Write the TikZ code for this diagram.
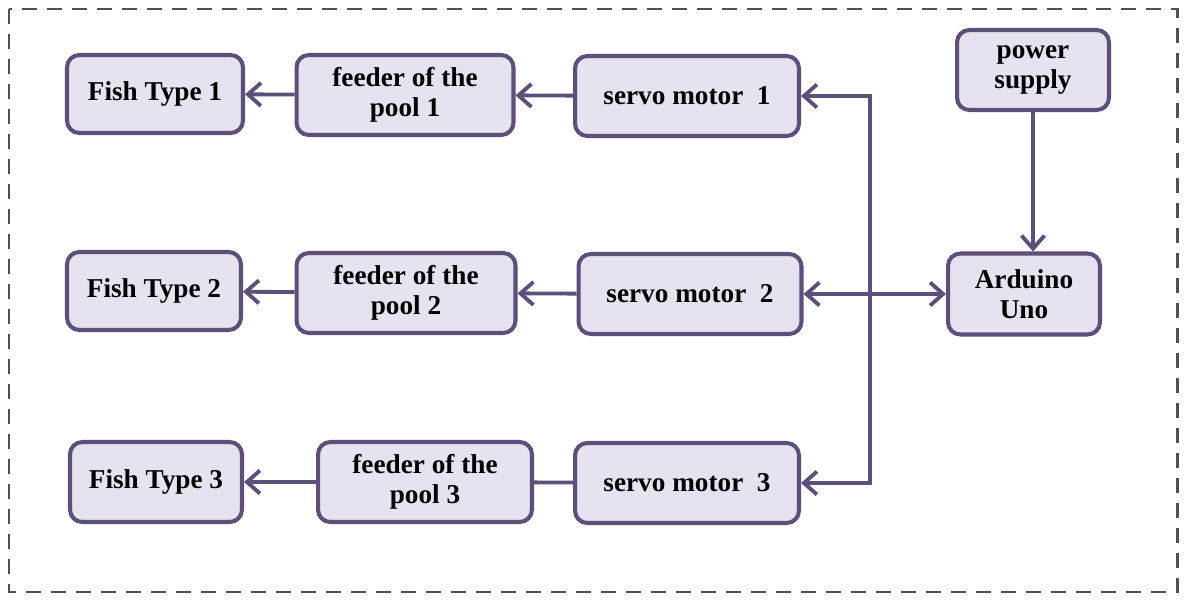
\documentclass[tikz,border=0pt]{standalone}
\usepackage{fontspec}
\setmainfont{Liberation Serif}
\usepackage{xcolor}
\usetikzlibrary{positioning, arrows.meta}

\definecolor{boxline}{HTML}{5E4F7A}
\definecolor{boxfill}{HTML}{E6E2EF}
\definecolor{frameline}{HTML}{505050}

\tikzset{barb/.tip={Straight Barb[length=2.6mm, width=4.6mm, line width=2.2pt]}}

\begin{document}
\begin{tikzpicture}[
    x=0.02cm, y=-0.02cm,
    box/.style={draw=boxline, fill=boxfill, line width=2.3pt, rectangle, rounded corners=7pt,
        minimum height=1.6cm, align=center, inner sep=2pt,
        font=\fontsize{15.5}{17}\selectfont\bfseries},
    link/.style={draw=boxline, line width=2.2pt},
    arr/.style={link, -barb},
    darr/.style={link, barb-barb}
]
    \useasboundingbox (0,0) rectangle (1186,601);

    % Outer frame
    \draw[frameline, line width=1.7pt, dash pattern=on 0.3cm off 0.2cm] (9,9) rectangle (1177,592);

    % Row 1
    \node[box, minimum width=3.52cm, minimum height=1.56cm] (fish1) at (155,94) {Fish Type 1};
    \node[box, minimum width=4.34cm] (feed1) at (405,95) {feeder of the\\pool 1};
    \node[box, minimum width=4.48cm] (servo1) at (687,96) {servo motor\ \ 1};

    % Row 2
    \node[box, minimum width=3.48cm, minimum height=1.56cm] (fish2) at (154,291) {Fish Type 2};
    \node[box, minimum width=4.38cm] (feed2) at (406,293) {feeder of the\\pool 2};
    \node[box, minimum width=4.46cm] (servo2) at (690,294) {servo motor\ \ 2};

    % Row 3
    \node[box, minimum width=3.44cm] (fish3) at (156,482) {Fish Type 3};
    \node[box, minimum width=4.28cm] (feed3) at (425,482) {feeder of the\\pool 3};
    \node[box, minimum width=4.48cm] (servo3) at (687,483) {servo motor\ \ 3};

    % Controller side
    \node[box, minimum width=3.04cm] (power) at (1033,70) {power\\supply};
    \node[box, minimum width=3.04cm, minimum height=1.62cm] (uno) at (1024,294) {Arduino\\Uno};
    \coordinate (bus) at (870,294);

    % Connections
    \draw[arr] (feed1) -- (fish1);
    \draw[arr] (servo1) -- (feed1);
    \draw[arr] (feed2) -- (fish2);
    \draw[arr] (servo2) -- (feed2);
    \draw[arr] (feed3) -- (fish3);
    \draw[link] (servo3) -- (feed3);
    \draw[arr] (power) -- (power |- uno.north);
    \draw[darr] (servo2) -- (uno);
    \draw[darr] (servo1.east) -| (bus) |- (servo3.east);

\end{tikzpicture}
\end{document}
